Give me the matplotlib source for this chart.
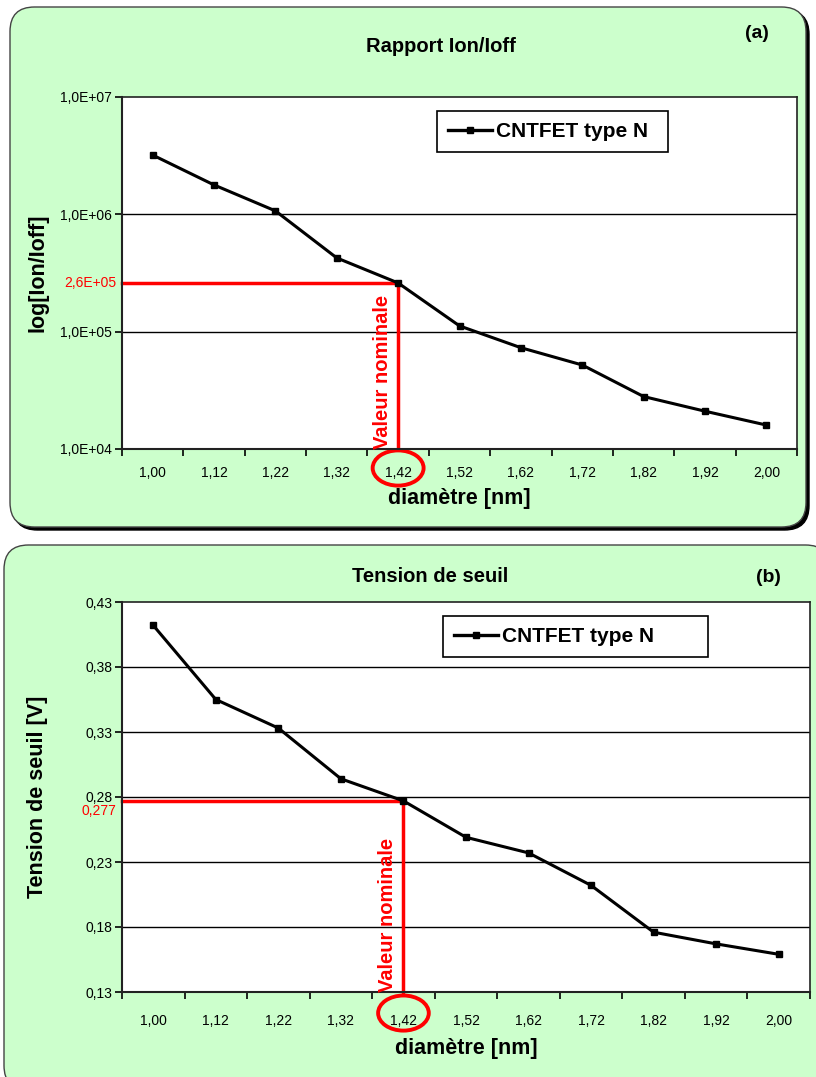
import matplotlib.pyplot as plt
from matplotlib.patches import FancyBboxPatch, Ellipse
from matplotlib.lines import Line2D

# Données
diametres = ['1,00', '1,12', '1,22', '1,32', '1,42', '1,52', '1,62', '1,72', '1,82', '1,92', '2,00']
ion_ioff = [3.2e6, 1.78e6, 1.07e6, 4.25e5, 2.6e5, 1.12e5, 7.3e4, 5.2e4, 2.8e4, 2.1e4, 1.6e4]
vth = [0.412, 0.355, 0.333, 0.294, 0.277, 0.249, 0.237, 0.212, 0.176, 0.167, 0.159]

ticks_a = [1e4, 1e5, 1e6, 1e7]
labels_a = ['1,0E+04', '1,0E+05', '1,0E+06', '1,0E+07']
ticks_b = [0.13, 0.18, 0.23, 0.28, 0.33, 0.38, 0.43]
labels_b = ['0,13', '0,18', '0,23', '0,28', '0,33', '0,38', '0,43']

idx_nominal = 4
val_a = 2.6e5
val_b = 0.277

plt.rcParams['font.family'] = ['Liberation Sans', 'DejaVu Sans']
gras = ['Liberation Sans', 'DejaVu Sans']

W, H = 816, 1077
fig = plt.figure(figsize=(W / 100, H / 100), dpi=100)
fig.patch.set_facecolor('white')

vert = '#ccffcc'
rouge = '#ff0000'


def cadre(x0, y0, x1, y1):
    # coordonnées en pixels (origine en haut à gauche)
    fx, fy = x0 / W, 1 - y1 / H
    fw, fh = (x1 - x0) / W, (y1 - y0) / H
    ombre = FancyBboxPatch((fx + 3 / W, fy - 3 / H), fw, fh,
                           boxstyle='round,pad=0,rounding_size=0.03',
                           transform=fig.transFigure, facecolor='black',
                           edgecolor='black', zorder=-2, mutation_aspect=W / H)
    boite = FancyBboxPatch((fx, fy), fw, fh,
                           boxstyle='round,pad=0,rounding_size=0.03',
                           transform=fig.transFigure, facecolor=vert,
                           edgecolor='#444444', linewidth=1, zorder=-1,
                           mutation_aspect=W / H)
    fig.patches.append(ombre)
    fig.patches.append(boite)


cadre(10, 7, 806, 527)
cadre(4, 545, 830, 1090)


def panneau(rect, y, ticks, labels, log, titre, lettre, ylabel, val, val_txt,
            titre_xy, lettre_xy, leg_rect, ell, dy_val, pad_x, pad_lab):
    ax = fig.add_axes(rect)
    ax.set_facecolor('white')
    x = list(range(len(diametres)))
    ax.plot(x, y, color='black', lw=2.2, marker='s', ms=4, zorder=3)
    if log:
        ax.set_yscale('log')
    ax.set_ylim(ticks[0], ticks[-1])
    ax.set_yticks(ticks)
    ax.set_yticklabels(labels, fontsize=10)
    ax.minorticks_off()
    ax.set_xlim(-0.5, len(diametres) - 0.5)
    ax.set_xticks(x)
    ax.set_xticklabels(diametres, fontsize=10)
    ax.tick_params(axis='x', length=0, pad=pad_x)
    ax.set_xticks([i - 0.5 for i in range(len(diametres) + 1)], minor=True)
    ax.tick_params(axis='x', which='minor', length=5, width=1.2, direction='out')
    ax.tick_params(axis='y', length=5, width=1.2, direction='out', pad=2)
    for t in ticks[1:-1]:
        ax.axhline(t, color='black', lw=1, zorder=1)
    for s in ax.spines.values():
        s.set_color('#222222')
        s.set_linewidth(1.2)
    ax.spines['left'].set_linewidth(1.5)
    ax.spines['bottom'].set_linewidth(1.5)
    ax.set_xlabel('diamètre [nm]', fontsize=15.5, fontweight='bold',
                  labelpad=pad_lab, family=gras)
    ax.set_ylabel(ylabel, fontsize=15.5, fontweight='bold', family=gras)
    ax.yaxis.set_label_coords((48 - 122) / (rect[2] * W), 0.5)

    # repères "valeur nominale"
    ax.plot([-0.5, idx_nominal], [val, val], color=rouge, lw=2.5, zorder=2,
            clip_on=False)
    ax.plot([idx_nominal, idx_nominal], [ticks[0], val], color=rouge, lw=2.5,
            zorder=2, clip_on=False)
    ax.annotate(val_txt, (-0.5, val), xytext=(-4, dy_val),
                textcoords='offset points', color=rouge, fontsize=10,
                ha='right', va='center')
    ax.text(idx_nominal - 0.25, ticks[0], 'Valeur nominale', color=rouge,
            fontsize=14.5, fontweight='bold', rotation=90, ha='center',
            va='bottom', family=gras)
    ax.add_patch(Ellipse((idx_nominal, ell[0]), ell[1], ell[2],
                         transform=ax.get_xaxis_transform(), fill=False,
                         edgecolor=rouge, lw=2.8, clip_on=False))

    fig.text(titre_xy[0], titre_xy[1], titre, fontsize=14.5, fontweight='bold',
             ha='center', va='center', family=gras)
    fig.text(lettre_xy[0], lettre_xy[1], lettre, fontsize=14,
             fontweight='bold', ha='center', va='center', family=gras)

    leg = Line2D([], [], color='black', lw=2.4, marker='s', ms=4.5)
    lg = ax.legend([leg], ['CNTFET type N'], loc='center', mode='expand',
                   bbox_to_anchor=leg_rect, bbox_transform=fig.transFigure,
                   fancybox=False, framealpha=1, edgecolor='black',
                   handlelength=2.1, handletextpad=0.2, borderpad=0.55,
                   borderaxespad=0,
                   prop={'family': gras, 'weight': 'bold', 'size': 15})
    lg.get_frame().set_linewidth(1.2)
    return ax


def boite_leg(x0, y0, x1, y1):
    return (x0 / W, 1 - y1 / H, (x1 - x0) / W, (y1 - y0) / H)


panneau([122 / W, 1 - 449 / H, 675 / W, 352 / H], ion_ioff, ticks_a, labels_a,
        True, 'Rapport Ion/Ioff', '(a)', 'log[Ion/Ioff]', val_a, '2,6E+05',
        (441 / W, 1 - 46 / H), (757 / W, 1 - 34 / H),
        boite_leg(437, 110, 668, 153), (-0.054, 0.83, 0.10), 0, 12, 6)

panneau([122 / W, 1 - 992 / H, 688 / W, 390 / H], vth, ticks_b, labels_b,
        False, 'Tension de seuil', '(b)', 'Tension de seuil [V]', val_b, '0,277',
        (430 / W, 1 - 576 / H), (768 / W, 1 - 577 / H),
        boite_leg(443, 614, 708, 659), (-0.054, 0.81, 0.09), -7, 16, 7)

fig.savefig('out.png', dpi=100)
